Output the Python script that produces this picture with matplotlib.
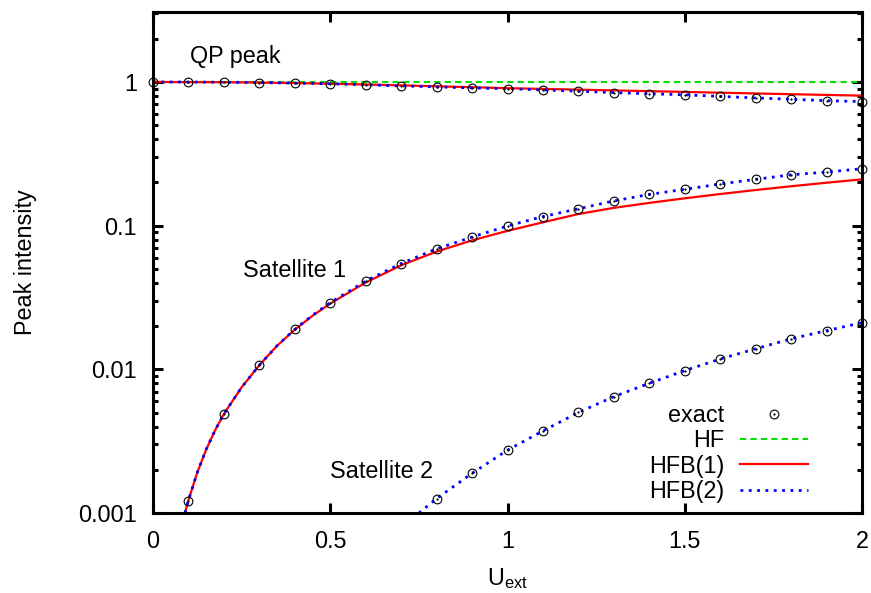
import matplotlib
matplotlib.use("Agg")
import matplotlib.pyplot as plt
from matplotlib.ticker import LogLocator, FixedLocator, NullFormatter

plt.rcParams['font.family'] = ['Liberation Sans', 'DejaVu Sans']
plt.rcParams['mathtext.default'] = 'regular'
plt.rcParams['font.size'] = 16.8

# exact results on the U grid
u_exact = [0.0, 0.1, 0.2, 0.3, 0.4, 0.5, 0.6, 0.7, 0.8, 0.9, 1.0,
           1.1, 1.2, 1.3, 1.4, 1.5, 1.6, 1.7, 1.8, 1.9, 2.0]
qp_exact = [1.0, 0.999, 0.996, 0.990, 0.982, 0.972, 0.955, 0.939, 0.924, 0.909, 0.897,
            0.880, 0.862, 0.843, 0.828, 0.814, 0.794, 0.774, 0.758, 0.741, 0.730]
u_sat1 = u_exact[1:]
sat1_exact = [0.00122, 0.00487, 0.0107, 0.0190, 0.0290, 0.0412, 0.0545, 0.0690, 0.0833, 0.0995,
              0.1157, 0.131, 0.1486, 0.165, 0.179, 0.195, 0.210, 0.226, 0.236, 0.249]
u_sat2 = [0.8, 0.9, 1.0, 1.1, 1.2, 1.3, 1.4, 1.5, 1.6, 1.7, 1.8, 1.9, 2.0]
sat2_exact = [0.00126, 0.00189, 0.00274, 0.00373, 0.00501, 0.00646, 0.0080,
              0.0098, 0.0118, 0.0139, 0.0163, 0.0186, 0.0211]

# HF: quasiparticle peak only
u_hf = [0.0, 2.0]
qp_hf = [1.0, 1.0]

# HFB(1)
u_hfb1_qp = [0.0, 0.2, 0.4, 0.6, 0.8, 1.0, 1.2, 1.4, 1.6, 1.8, 2.0]
qp_hfb1 = [1.0, 0.996, 0.983, 0.961, 0.933, 0.905, 0.884, 0.863, 0.842, 0.822, 0.803]
u_line = [0.09, 0.1, 0.125, 0.15, 0.175, 0.2, 0.25, 0.3, 0.35, 0.4, 0.45, 0.5, 0.6, 0.7, 0.8,
          0.9, 1.0, 1.1, 1.2, 1.3, 1.4, 1.5, 1.6, 1.7, 1.8, 1.9, 2.0]
sat1_hfb1 = [0.001, 0.00123, 0.00192, 0.00277, 0.00376, 0.0049, 0.0075, 0.0107, 0.0146, 0.0189,
             0.0236, 0.0287, 0.0402, 0.0530, 0.0660, 0.0790, 0.0920, 0.1055, 0.1205, 0.1330,
             0.1440, 0.1550, 0.166, 0.177, 0.188, 0.199, 0.210]

# HFB(2)
u_hfb2_qp = u_exact
qp_hfb2 = qp_exact
sat1_hfb2 = [0.001, 0.00123, 0.00192, 0.00277, 0.00376, 0.0049, 0.0075, 0.0107, 0.0146, 0.0190,
             0.0238, 0.0291, 0.0412, 0.0545, 0.0690, 0.0833, 0.0995, 0.1157, 0.131, 0.1486,
             0.165, 0.179, 0.195, 0.210, 0.226, 0.236, 0.249]
u_hfb2_sat2 = [0.75] + u_sat2
sat2_hfb2 = [0.001] + sat2_exact

fig = plt.figure(figsize=(8.71, 5.93), dpi=100)
ax = fig.add_axes([0.1757, 0.1349, 0.8140, 0.8449])
ax.set_yscale('log')

green = '#00dd00'
red = '#ff0000'
blue = '#0000ff'

h_hf, = ax.plot(u_hf, qp_hf, color=green, lw=1.5, dashes=(3, 2), label='HF')
h_hfb1, = ax.plot(u_hfb1_qp, qp_hfb1, color=red, lw=1.6, label='HFB(1)')
ax.plot(u_line, sat1_hfb1, color=red, lw=1.6)
h_hfb2, = ax.plot(u_hfb2_qp, qp_hfb2, color=blue, lw=2, ls=(0, (1, 2)), label='HFB(2)')
ax.plot(u_line, sat1_hfb2, color=blue, lw=2, ls=(0, (1, 2)))
ax.plot(u_hfb2_sat2, sat2_hfb2, color=blue, lw=2, ls=(0, (1, 2)))

# exact points: open circle with a dot in the middle
for xs, ys in [(u_exact, qp_exact), (u_sat1, sat1_exact), (u_sat2, sat2_exact)]:
    h_circ, = ax.plot(xs, ys, ls='none', marker='o', ms=6.3, mfc='none', mec='black',
                      mew=0.8, clip_on=False, zorder=5)
    h_dot, = ax.plot(xs, ys, ls='none', marker='o', ms=1.2, mfc='black', mec='black',
                     mew=0.3, clip_on=False, zorder=5)

ax.set_xlim(0, 2)
ax.set_ylim(0.001, 3.07)

ax.xaxis.set_major_locator(FixedLocator([0, 0.5, 1, 1.5, 2]))
ax.set_xticklabels(['0', '0.5', '1', '1.5', '2'])
ax.yaxis.set_major_locator(FixedLocator([0.001, 0.01, 0.1, 1]))
ax.set_yticklabels(['0.001', '0.01', '0.1', '1'])
ax.yaxis.set_minor_locator(LogLocator(base=10, subs=range(2, 10), numticks=20))
ax.yaxis.set_minor_formatter(NullFormatter())

ax.tick_params(which='both', direction='in', top=True, right=True, width=2.2)
ax.tick_params(which='major', length=7)
ax.tick_params(axis='x', which='major', pad=12.5)
ax.tick_params(axis='y', which='major', pad=11.5)
ax.tick_params(axis='y', which='minor', length=3.5)
for s in ax.spines.values():
    s.set_linewidth(2.2)

ax.set_xlabel('U$_{ext}$', labelpad=9.5)
ax.set_ylabel('Peak intensity', labelpad=30)

ax.text(0.105, 1.5, 'QP peak', va='center', ha='left')
ax.text(0.255, 0.0485, 'Satellite 1', va='center', ha='left')
ax.text(0.5, 0.00194, 'Satellite 2', va='center', ha='left')

leg = ax.legend([(h_circ, h_dot), h_hf, h_hfb1, h_hfb2],
                ['exact', 'HF', 'HFB(1)', 'HFB(2)'],
                loc='lower right', bbox_to_anchor=(0.924, 0.02), frameon=False,
                markerfirst=False, handlelength=2.9, handletextpad=0.68,
                labelspacing=0.1, borderpad=0, borderaxespad=0)

fig.savefig('out.png', dpi=100)
